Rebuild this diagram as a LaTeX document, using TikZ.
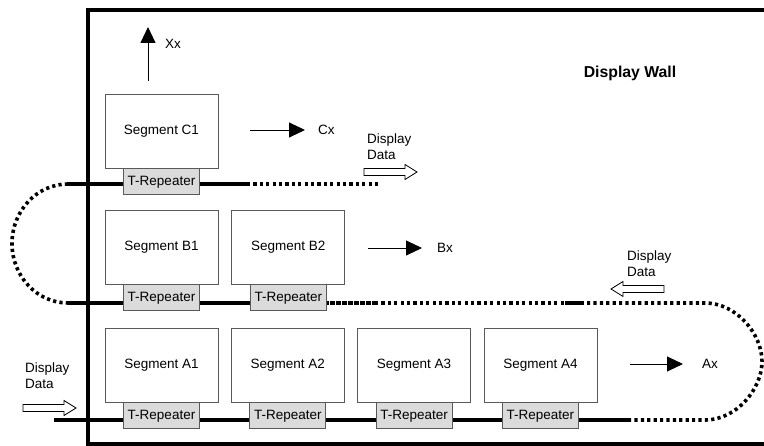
\documentclass[tikz,border=0pt]{standalone}
\usepackage{fontspec}
\setmainfont{Liberation Sans}
\usetikzlibrary{positioning,arrows.meta,backgrounds}

\tikzset{
    segment/.style={draw=black!65, line width=0.8pt, fill=white, minimum width=113pt, minimum height=74pt, inner sep=0pt},
    repeater/.style={draw=black!65, line width=0.8pt, fill=black!14, minimum width=76pt, minimum height=26pt, inner sep=0pt},
    tag/.style={inner sep=0pt, anchor=west},
    note/.style={inner sep=0pt, anchor=west, align=left},
    bus/.style={line width=4pt},
    ring/.style={line width=3.6pt, dash pattern=on 3.2pt off 3.2pt},
    busjoin/.style={line width=4pt, dash pattern=on 4.5pt off 1.5pt},
    outarrow/.style={line width=0.9pt, -{Triangle[length=16pt,width=15pt]}},
    dataarrow/.pic={\draw[line width=0.8pt] (0,-3.5) -- (41,-3.5) -- (41,-7.5) -- (53,0) -- (41,7.5) -- (41,3.5) -- (0,3.5) -- cycle;}
}

\begin{document}
\begin{tikzpicture}[x=1pt, y=-1pt, every node/.style={font=\fontsize{13.5}{16}\selectfont}]
    \useasboundingbox (0,0) rectangle (764,446);
    \clip (0,0) rectangle (764,446);

    %% segments
    \node[segment] (segC1) at (161.5,131) {Segment C1};
    \node[segment] (segB1) at (161.5,247) {Segment B1};
    \node[segment, right=13pt of segB1] (segB2) {Segment B2};
    \node[segment] (segA1) at (161.5,365) {Segment A1};
    \node[segment, right=12.5pt of segA1] (segA2) {Segment A2};
    \node[segment, right=12.5pt of segA2] (segA3) {Segment A3};
    \node[segment, right=12.5pt of segA3] (segA4) {Segment A4};

    %% T-Repeaters
    \foreach \s in {C1,B1,B2,A1,A2,A3,A4}
        \node[repeater, below=0pt of seg\s] (rep\s) {T-Repeater};

    %% bus coordinates
    \coordinate (cL) at (68,184);
    \coordinate (cM) at (247,184);
    \coordinate (cR) at (379,184);
    \coordinate (bL) at (68,303);
    \coordinate (bS) at (324,303);
    \coordinate (bD) at (375,303);
    \coordinate (bP) at (565,303);
    \coordinate (bQ) at (584,303);
    \coordinate (bR) at (705,303);
    \coordinate (aL) at (54,420);
    \coordinate (aS) at (628,420);
    \coordinate (aR) at (705,420);

    \begin{scope}[on background layer]
        \draw[bus] (cL) -- (cM);
        \draw[ring] (cM) -- (cR);
        \draw[ring] (cL) .. controls (37,184) and (12,210.7) .. (12,243.5) .. controls (12,276.3) and (37,303) .. (bL);
        \draw[bus] (bL) -- (bS);
        \draw[busjoin] (bS) -- (bD);
        \draw[ring] (bD) -- (bP);
        \draw[bus] (bP) -- (bQ);
        \draw[bus] (aL) -- (aS);
        \draw[ring] (aS) -- (aR) .. controls (736.5,420) and (762,389) .. (762,361.5) .. controls (762,334) and (736.5,303) .. (bR) -- (bQ);
    \end{scope}

    %% outputs
    \node[tag] (lblXx) at (165,44) {Xx};
    \node[tag] (lblCx) at (318,130) {Cx};
    \node[tag] (lblBx) at (437,248) {Bx};
    \node[tag] (lblAx) at (702,364) {Ax};
    \coordinate (xxtail) at (148,81);
    \coordinate (xxtip) at (148,27);
    \coordinate (cxtail) at (250,130);
    \coordinate (cxtip) at (305,130);
    \coordinate (bxtail) at (368,248);
    \coordinate (bxtip) at (422,248);
    \coordinate (axtail) at (630,364);
    \coordinate (axtip) at (683,364);
    \draw[outarrow] (xxtail) -- (xxtip);
    \draw[outarrow] (cxtail) -- (cxtip);
    \draw[outarrow] (bxtail) -- (bxtip);
    \draw[outarrow] (axtail) -- (axtip);

    %% display data
    \node[note] (dataC) at (367,147) {Display\\Data};
    \node[note] (dataB) at (627,264) {Display\\Data};
    \node[note] (dataA) at (25,376) {Display\\Data};
    \pic at (364,172) {dataarrow};
    \pic[rotate=180] at (664,289) {dataarrow};
    \pic at (23,408) {dataarrow};

    \node[font=\fontsize{15.8}{18}\selectfont\bfseries] (wall) at (630,73) {Display Wall};

    %% frame
    \draw[line width=4.7pt] (770,10) -| (88,444.5) -- (770,444.5);
\end{tikzpicture}
\end{document}
